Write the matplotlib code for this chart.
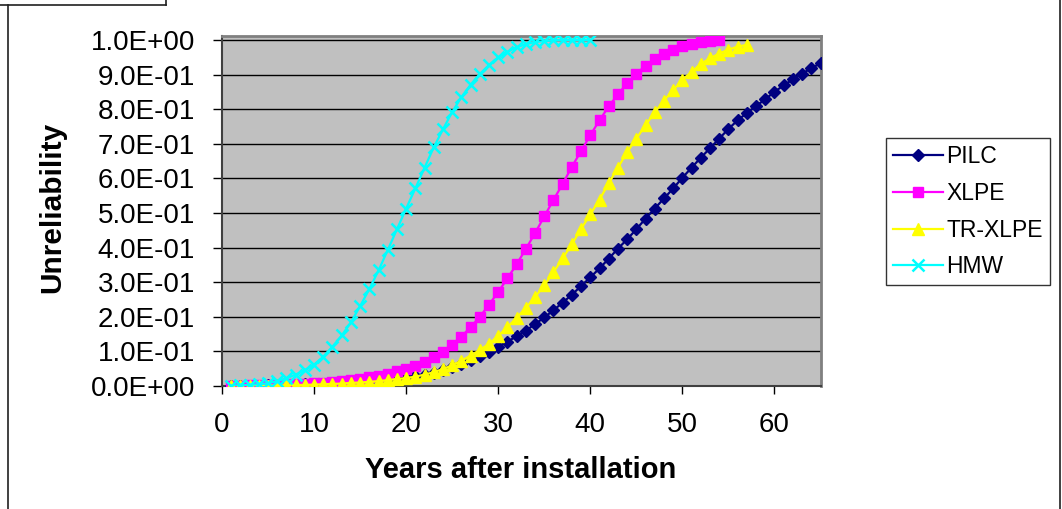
import matplotlib
matplotlib.use("Agg")
import matplotlib.pyplot as plt
from matplotlib.lines import Line2D

plt.rcParams['font.family'] = ['Liberation Sans', 'DejaVu Sans']

# ---------------- data ----------------
pilc_years = list(range(1, 66))
pilc = [0.000, 0.000, 0.001, 0.001, 0.002, 0.002, 0.003, 0.004, 0.005, 0.006,
        0.007, 0.008, 0.010, 0.011, 0.013, 0.015, 0.017, 0.020, 0.023, 0.026,
        0.029, 0.033, 0.039, 0.046, 0.055, 0.065, 0.076, 0.087, 0.099, 0.113,
        0.128, 0.144, 0.160, 0.179, 0.198, 0.219, 0.241, 0.264, 0.289, 0.314,
        0.340, 0.368, 0.397, 0.424, 0.453, 0.484, 0.513, 0.542, 0.571, 0.602,
        0.631, 0.660, 0.687, 0.715, 0.743, 0.768, 0.789, 0.809, 0.829, 0.850,
        0.869, 0.886, 0.903, 0.918, 0.933]

xlpe_years = list(range(1, 55))
xlpe = [0.001, 0.001, 0.002, 0.002, 0.003, 0.004, 0.005, 0.006, 0.007, 0.009,
        0.010, 0.012, 0.015, 0.018, 0.021, 0.025, 0.030, 0.035, 0.042, 0.050,
        0.059, 0.070, 0.084, 0.099, 0.119, 0.143, 0.170, 0.200, 0.235, 0.272,
        0.311, 0.352, 0.396, 0.442, 0.490, 0.538, 0.584, 0.634, 0.679, 0.725,
        0.768, 0.808, 0.843, 0.875, 0.903, 0.925, 0.944, 0.959, 0.971, 0.982,
        0.989, 0.995, 0.998, 1.000]

trxlpe_years = list(range(1, 58))
trxlpe = [0.000, 0.000, 0.001, 0.001, 0.001, 0.002, 0.002, 0.003, 0.003, 0.004,
          0.005, 0.006, 0.007, 0.009, 0.010, 0.012, 0.014, 0.017, 0.020, 0.023,
          0.027, 0.033, 0.040, 0.049, 0.060, 0.073, 0.088, 0.104, 0.122, 0.145,
          0.170, 0.197, 0.226, 0.257, 0.291, 0.329, 0.369, 0.410, 0.454, 0.496,
          0.539, 0.586, 0.631, 0.676, 0.715, 0.754, 0.791, 0.825, 0.855, 0.885,
          0.908, 0.931, 0.947, 0.961, 0.972, 0.981, 0.986]

hmw_years = list(range(1, 41))
hmw = [0.001, 0.002, 0.003, 0.005, 0.008, 0.014, 0.022, 0.033, 0.046, 0.062,
       0.085, 0.114, 0.146, 0.184, 0.231, 0.280, 0.334, 0.393, 0.453, 0.513,
       0.571, 0.631, 0.690, 0.742, 0.792, 0.835, 0.871, 0.902, 0.928, 0.950,
       0.966, 0.979, 0.988, 0.994, 0.997, 0.999, 1.000, 1.000, 1.000, 1.000]

series_names = ['PILC', 'XLPE', 'TR-XLPE', 'HMW']
x_ticks = [0, 10, 20, 30, 40, 50, 60]
y_ticks = [0.0, 0.1, 0.2, 0.3, 0.4, 0.5, 0.6, 0.7, 0.8, 0.9, 1.0]
x_label = 'Years after installation'
y_label = 'Unreliability'

# ---------------- figure ----------------
W, H = 1062, 509
fig = plt.figure(figsize=(W / 100, H / 100), dpi=100)
fig.patch.set_facecolor('white')

ax = fig.add_axes([222 / W, 1 - 386 / H, (820.5 - 222) / W, 350 / H])
ax.set_facecolor('#C0C0C0')

ax.plot(pilc_years, pilc, color='#000080', lw=1.6, marker='D', ms=5.8,
        mfc='#000080', mec='#000080', label=series_names[0], zorder=3)
ax.plot(xlpe_years, xlpe, color='#FF00FF', lw=1.6, marker='s', ms=7.0,
        mfc='#FF00FF', mec='#FF00FF', label=series_names[1], zorder=4)
ax.plot(trxlpe_years, trxlpe, color='#FFFF00', lw=1.6, marker='^', ms=8.5,
        mfc='#FFFF00', mec='#FFFF00', label=series_names[2], zorder=5)
ax.plot(hmw_years, hmw, color='#00FFFF', lw=1.6, marker='x', ms=9.0,
        mew=1.8, label=series_names[3], zorder=6)

ax.set_xlim(0, 65)
ax.set_ylim(0, 1.0116)
ax.set_xticks(x_ticks)
ax.set_xticklabels([str(t) for t in x_ticks])
ax.set_yticks(y_ticks)
ax.set_yticklabels([f"{v:.1E}" for v in y_ticks])

ax.yaxis.grid(True, color='black', lw=1.0, zorder=1)
ax.set_axisbelow(True)

ax.tick_params(axis='y', direction='out', length=6.5, width=1.0, pad=13,
               labelsize=20, colors='black')
ax.tick_params(axis='x', direction='out', length=6.0, width=1.0, pad=13,
               labelsize=20, colors='black')

for s in ['left', 'bottom']:
    ax.spines[s].set_color('#404040')
    ax.spines[s].set_linewidth(1.5)
for s in ['top', 'right']:
    ax.spines[s].set_color('#808080')
    ax.spines[s].set_linewidth(2.0)

fig.text(521 / W, 1 - 470 / H, x_label, ha='center', va='center',
         fontsize=21, fontweight='bold')
fig.text(52 / W, 1 - 207 / H, y_label, ha='center', va='center',
         rotation=90, fontsize=21.5, fontweight='bold')

leg = ax.legend(loc='upper left', bbox_to_anchor=(885.7 / W, 1 - 138.3 / H),
                bbox_transform=fig.transFigure, borderaxespad=0,
                frameon=True, fancybox=False, fontsize=16.5,
                handlelength=2.2, handletextpad=0.15, labelspacing=0.6,
                borderpad=0.3)
leg.get_frame().set_edgecolor('black')
leg.get_frame().set_linewidth(1.0)
leg.get_frame().set_facecolor('white')

# chart-area borders of the cropped spreadsheet picture
for (x0, y0, x1, y1) in [(8, 5, 8, H), (1059.5, 0, 1059.5, H),
                         (0, 4.5, 165.5, 4.5), (165.5, 0, 165.5, 4.5)]:
    fig.add_artist(Line2D([x0 / W, x1 / W], [1 - y0 / H, 1 - y1 / H],
                          transform=fig.transFigure, color='#202020', lw=1.2))

fig.savefig('out.png', dpi=100)
